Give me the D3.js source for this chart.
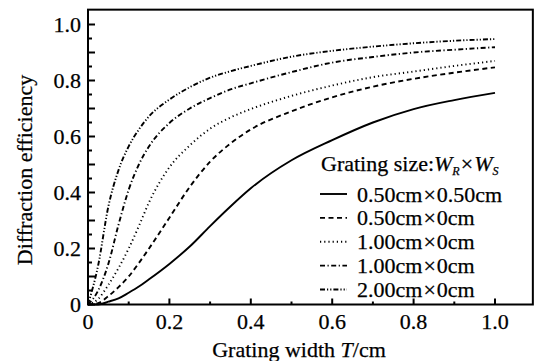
<!DOCTYPE html>
<html>
<head>
<meta charset="utf-8">
<script src="https://cdn.jsdelivr.net/npm/d3@7"></script>
<style>
  html, body { margin: 0; padding: 0; background: #fff; }
  svg text { font-family: "Liberation Serif", "Times New Roman", serif; fill: #000; stroke: #000; stroke-width: 0.25; }
</style>
</head>
<body>
<svg id="chart" width="537" height="361"></svg>
<script>
// grating width T (cm)
const widths = [0, 0.025, 0.05, 0.075, 0.1, 0.125, 0.15, 0.2, 0.25, 0.3, 0.35, 0.4, 0.5, 0.6, 0.7, 0.8, 0.9, 1.0];

// diffraction efficiency per grating size
const eff050x050 = [0, 0, 0.01, 0.022, 0.042, 0.064, 0.09, 0.145, 0.207, 0.28, 0.35, 0.415, 0.515, 0.587, 0.65, 0.698, 0.73, 0.756];
const eff050x0   = [0, 0.005, 0.03, 0.062, 0.1, 0.148, 0.2, 0.31, 0.42, 0.51, 0.575, 0.625, 0.69, 0.74, 0.778, 0.806, 0.828, 0.847];
const eff100x0a  = [0, 0.02, 0.07, 0.13, 0.2, 0.28, 0.365, 0.49, 0.568, 0.628, 0.668, 0.698, 0.745, 0.782, 0.812, 0.832, 0.852, 0.87];
const eff100x0b  = [0, 0.05, 0.145, 0.285, 0.41, 0.5, 0.565, 0.648, 0.7, 0.737, 0.768, 0.79, 0.83, 0.864, 0.884, 0.9, 0.91, 0.919];
const eff200x0   = [0, 0.14, 0.35, 0.48, 0.565, 0.625, 0.672, 0.732, 0.776, 0.81, 0.833, 0.852, 0.885, 0.906, 0.921, 0.933, 0.942, 0.948];

const xTickLabels = ['0', '0.2', '0.4', '0.6', '0.8', '1.0'];
const yTickLabels = ['0', '0.2', '0.4', '0.6', '0.8', '1.0'];

const series = [
  { values: eff050x050, dash: null,              label: ['0.50cm', '0.50cm'] },
  { values: eff050x0,   dash: '5,3.5',           label: ['0.50cm', '0cm'] },
  { values: eff100x0a,  dash: '1.2,3',           label: ['1.00cm', '0cm'] },
  { values: eff100x0b,  dash: '5,2.5,1.2,2.5',   label: ['1.00cm', '0cm'] },
  { values: eff200x0,   dash: '5,2,1.2,2,1.2,2', label: ['2.00cm', '0cm'] }
];

const svg = d3.select('#chart');
const x = d3.scaleLinear().domain([0, 1]).range([88, 495]);
const y = d3.scaleLinear().domain([0, 1]).range([304.5, 24.5]);
const xMax = 1.093, yMax = 1.053;
const fs = 22;

// frame
svg.append('rect')
  .attr('x', x(0)).attr('y', y(yMax))
  .attr('width', x(xMax) - x(0)).attr('height', y(0) - y(yMax))
  .attr('fill', 'none').attr('stroke', '#000').attr('stroke-width', 2);

// ticks (inward)
const yTicks = d3.range(0, 21).map(i => i * 0.05);
svg.append('g').selectAll('line').data(yTicks).join('line')
  .attr('x1', x(0)).attr('x2', (d, i) => x(0) + (i % 2 === 0 ? 7 : 4))
  .attr('y1', d => y(d)).attr('y2', d => y(d))
  .attr('stroke', '#000').attr('stroke-width', 2);

const xTicks = d3.range(0, 11).map(i => i * 0.1);
svg.append('g').selectAll('line').data(xTicks).join('line')
  .attr('x1', d => x(d)).attr('x2', d => x(d))
  .attr('y1', y(0)).attr('y2', (d, i) => y(0) - (i % 2 === 0 ? 6 : 3))
  .attr('stroke', '#000').attr('stroke-width', 2);

// tick labels
svg.append('g').selectAll('text').data(yTickLabels).join('text')
  .attr('x', x(0) - 7).attr('y', d => y(+d)).attr('dy', '0.35em')
  .attr('text-anchor', 'end').attr('font-size', fs)
  .text(d => d);

svg.append('g').selectAll('text').data(xTickLabels).join('text')
  .attr('x', d => x(+d)).attr('y', y(0) + 24)
  .attr('text-anchor', 'middle').attr('font-size', fs)
  .text(d => d);

// axis titles
const xt = svg.append('text')
  .attr('x', 299).attr('y', 357)
  .attr('text-anchor', 'middle').attr('font-size', fs);
xt.append('tspan').text('Grating width ');
xt.append('tspan').attr('font-style', 'italic').text('T');
xt.append('tspan').text('/cm');

svg.append('text')
  .attr('transform', 'translate(32,170) rotate(-90)')
  .attr('text-anchor', 'middle').attr('font-size', fs)
  .text('Diffraction efficiency');

// curves
const line = d3.line()
  .x((d, i) => x(widths[i]))
  .y(d => y(d))
  .curve(d3.curveMonotoneX);

svg.append('g').selectAll('path').data(series).join('path')
  .attr('d', d => line(d.values))
  .attr('fill', 'none')
  .attr('stroke', '#000')
  .attr('stroke-width', 1.9)
  .attr('stroke-dasharray', d => d.dash);

// legend
const lg = svg.append('g');
const title = lg.append('text').attr('x', 321).attr('y', 171).attr('font-size', fs);
title.append('tspan').text('Grating size:');
title.append('tspan').attr('font-style', 'italic').text('W');
title.append('tspan').attr('font-style', 'italic').attr('font-size', 12).attr('dy', 4).text('R');
title.append('tspan').attr('dy', -4).attr('dx', 1).text('\u00d7');
title.append('tspan').attr('dx', 1).attr('font-style', 'italic').text('W');
title.append('tspan').attr('font-style', 'italic').attr('font-size', 12).attr('dy', 4).text('S');

const rowY = d3.scaleLinear().domain([0, 4]).range([194, 289.5]);
const rows = lg.selectAll('g.row').data(series).join('g').attr('class', 'row')
  .attr('transform', (d, i) => `translate(0,${rowY(i)})`);

rows.append('line')
  .attr('x1', 320).attr('x2', 347).attr('y1', 0).attr('y2', 0)
  .attr('stroke', '#000').attr('stroke-width', 1.9)
  .attr('stroke-dasharray', d => d.dash);

const rt = rows.append('text').attr('x', 357).attr('y', 7.5).attr('font-size', fs);
rt.append('tspan').text(d => d.label[0]);
rt.append('tspan').attr('dx', 1).text('\u00d7');
rt.append('tspan').attr('dx', 1).text(d => d.label[1]);
</script>
</body>
</html>
